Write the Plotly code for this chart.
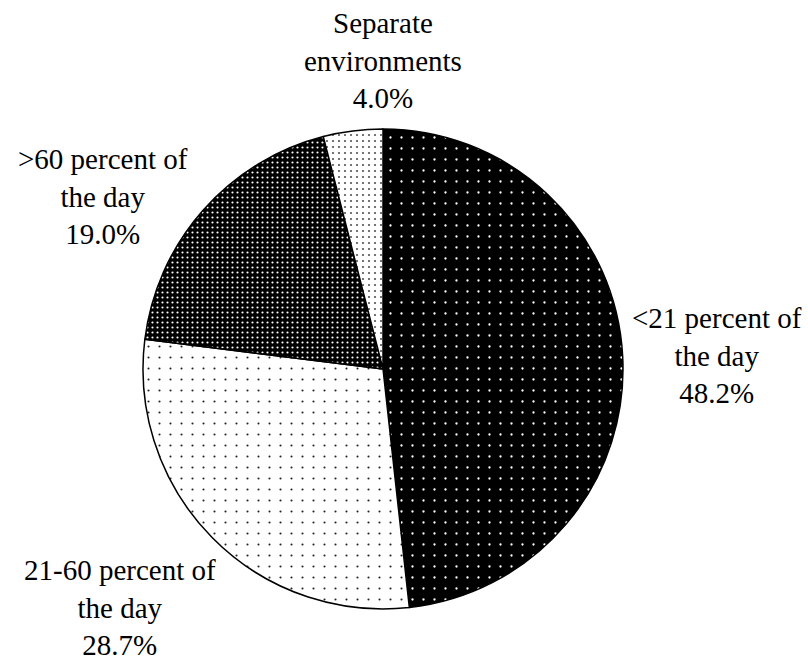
import plotly.graph_objects as go

# Share of students by time spent in the regular classroom
categories = ["<21 percent of the day", "21-60 percent of the day",
              ">60 percent of the day", "Separate environments"]
label_lines = [["&lt;21 percent of", "the day"],
               ["21-60 percent of", "the day"],
               ["&gt;60 percent of", "the day"],
               ["Separate", "environments"]]
values = [48.2, 28.7, 19.0, 4.0]

# dotted fills for each slice
pattern_bg = ["#000000", "#ffffff", "#000000", "#ffffff"]
pattern_fg = ["#ffffff", "#222222", "#ffffff", "#555555"]
pattern_size = [11, 11, 5, 6]
pattern_solidity = [0.035, 0.03, 0.15, 0.11]

# label block centres (pixels from top-left)
label_x = [717, 120, 103, 383]
label_y = [355, 607, 196, 60]

W, H = 808, 664
cx, cy, r = 383, 369, 240
FONT = "Tinos, Liberation Serif, serif"

fig = go.Figure(go.Pie(
    labels=categories,
    values=values,
    sort=False,
    direction="clockwise",
    rotation=0,
    textinfo="none",
    hoverinfo="label+percent",
    marker=dict(
        colors=pattern_bg,
        line=dict(color="#000000", width=1.5),
        pattern=dict(shape=["."] * 4, bgcolor=pattern_bg, fgcolor=pattern_fg,
                     size=pattern_size, solidity=pattern_solidity,
                     fillmode="replace"),
    ),
    domain=dict(x=[(cx - r) / W, (cx + r) / W],
                y=[(H - cy - r) / H, (H - cy + r) / H]),
    showlegend=False,
))

for lines, v, lx, ly in zip(label_lines, values, label_x, label_y):
    fig.add_annotation(
        text="<br>".join(lines + [f"{v:.1f}%"]),
        x=lx / W, y=1 - ly / H, xref="paper", yref="paper",
        xanchor="center", yanchor="middle", showarrow=False, align="center",
        font=dict(family=FONT, size=29, color="#000000"),
    )

fig.update_layout(
    width=W, height=H,
    margin=dict(l=0, r=0, t=0, b=0),
    font=dict(family=FONT, size=29, color="#000000"),
    paper_bgcolor="#ffffff", plot_bgcolor="#ffffff",
)

fig.write_html("out.html")
